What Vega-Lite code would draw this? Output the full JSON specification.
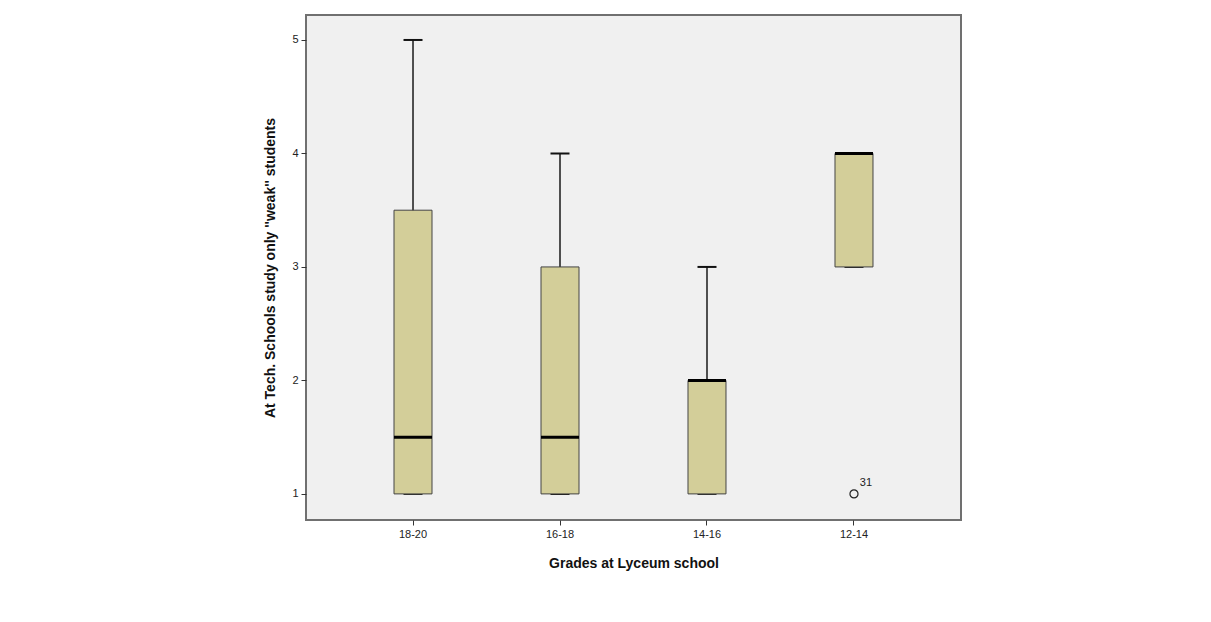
{
  "$schema": "https://vega.github.io/schema/vega-lite/v6.json",
  "autosize": {"type": "none"},
  "width": 655,
  "height": 505,
  "padding": {"left": 306, "top": 15, "right": 250, "bottom": 102},
  "background": "white",
  "config": {
    "font": "Liberation Sans",
    "view": {"fill": "#F0F0F0", "stroke": "#707070", "strokeWidth": 2},
    "axis": {
      "domain": false,
      "grid": false,
      "tickColor": "#333333",
      "tickSize": 5,
      "labelFont": "Liberation Sans",
      "labelFontSize": 11,
      "labelColor": "#222222",
      "titleFont": "Liberation Sans",
      "titleFontSize": 14,
      "titleFontWeight": "bold",
      "titleColor": "#111111"
    }
  },
  "datasets": {
    "boxes": [
      {"grade": "18-20", "min": 1, "q1": 1, "median": 1.5, "q3": 3.5, "max": 5},
      {"grade": "16-18", "min": 1, "q1": 1, "median": 1.5, "q3": 3, "max": 4},
      {"grade": "14-16", "min": 1, "q1": 1, "median": 2, "q3": 2, "max": 3},
      {"grade": "12-14", "min": 3, "q1": 3, "median": 4, "q3": 4, "max": 4}
    ],
    "outliers": [
      {"grade": "12-14", "value": 1, "case": "31"}
    ]
  },
  "encoding": {
    "x": {
      "field": "grade",
      "type": "nominal",
      "sort": ["18-20", "16-18", "14-16", "12-14"],
      "scale": {"paddingInner": 0.5, "paddingOuter": 0.478},
      "axis": {"title": "Grades at Lyceum school", "labelAngle": 0, "labelPadding": 3, "titlePadding": 17}
    }
  },
  "layer": [
    {
      "data": {"name": "boxes"},
      "mark": {"type": "rule", "color": "#1a1a1a", "strokeWidth": 1.5, "opacity": 1},
      "encoding": {
        "y": {
          "field": "min",
          "type": "quantitative",
          "scale": {"domain": [0.77, 5.22], "nice": false, "zero": false},
          "axis": {"title": "At Tech. Schools study only ''weak'' students", "values": [1, 2, 3, 4, 5], "format": "d", "labelPadding": 3, "titlePadding": 14}
        },
        "y2": {"field": "max"}
      }
    },
    {
      "data": {"name": "boxes"},
      "mark": {"type": "tick", "color": "#111111", "size": 19, "thickness": 2, "opacity": 1},
      "encoding": {"y": {"field": "max", "type": "quantitative"}}
    },
    {
      "data": {"name": "boxes"},
      "mark": {"type": "tick", "color": "#111111", "size": 19, "thickness": 2, "opacity": 1},
      "encoding": {"y": {"field": "min", "type": "quantitative"}}
    },
    {
      "data": {"name": "boxes"},
      "mark": {"type": "bar", "size": 38, "fill": "#D3CE99", "stroke": "#444444", "strokeWidth": 1, "opacity": 1},
      "encoding": {
        "y": {"field": "q1", "type": "quantitative"},
        "y2": {"field": "q3"}
      }
    },
    {
      "data": {"name": "boxes"},
      "mark": {"type": "tick", "color": "#000000", "size": 38, "thickness": 3, "opacity": 1},
      "encoding": {"y": {"field": "median", "type": "quantitative"}}
    },
    {
      "data": {"name": "outliers"},
      "mark": {"type": "point", "shape": "circle", "size": 65, "filled": false, "stroke": "#222222", "strokeWidth": 1.2, "opacity": 1},
      "encoding": {"y": {"field": "value", "type": "quantitative"}}
    },
    {
      "data": {"name": "outliers"},
      "mark": {"type": "text", "dx": 12, "dy": -11, "fontSize": 11, "color": "#222222", "font": "Liberation Sans"},
      "encoding": {
        "y": {"field": "value", "type": "quantitative"},
        "text": {"field": "case"}
      }
    }
  ]
}
